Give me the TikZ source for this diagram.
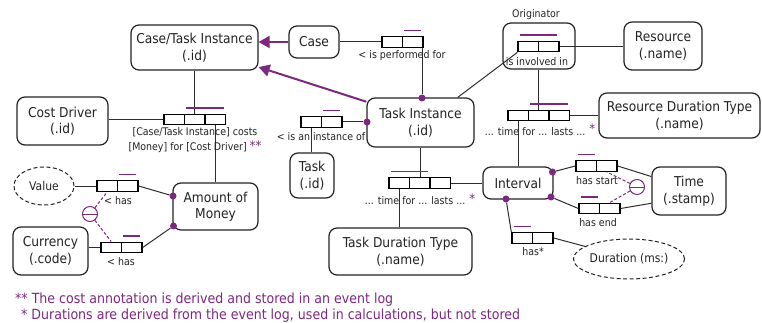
\documentclass[tikz,border=0pt]{standalone}
\usepackage{fontspec}
\setmainfont{DejaVu Sans}[FakeStretch=0.9]
\usetikzlibrary{arrows.meta,calc,shapes.geometric}

\definecolor{ormpurple}{RGB}{125,40,128}
\definecolor{ormink}{RGB}{34,34,34}
\definecolor{ormwire}{RGB}{45,45,45}

\tikzset{
  entity/.style={draw=ormink, line width=1.2pt, rounded corners=8pt, align=center,
    font=\fontsize{13.6}{16.5}\selectfont, text=ormink, inner sep=0pt},
  valuetype/.style={ellipse, draw=ormink, line width=1pt, dash pattern=on 4pt off 2.5pt,
    align=center, font=\fontsize{12}{15}\selectfont, text=ormink, inner sep=0pt},
  cell/.style={draw=black, line width=1.4pt, fill=white, minimum width=20.5pt,
    minimum height=10.5pt, inner sep=0pt},
  ubar/.style={draw=ormpurple, line width=1.4pt},
  wire/.style={draw=ormwire, line width=1pt},
  rolelabel/.style={font=\fontsize{10.5}{15}\selectfont, text=ormink, inner sep=0pt, align=center},
  footnote/.style={font=\fontsize{14}{17}\selectfont, text=ormpurple, inner sep=0pt},
  dot/.style={circle, fill=ormpurple, inner sep=0pt, minimum size=7pt},
  subtype/.style={draw=ormpurple, line width=2pt, -{Triangle[length=11pt,width=12pt]}},
  xconstraint/.style={circle, draw=ormpurple, line width=1pt, minimum size=15pt, inner sep=0pt,
    path picture={\draw[ormpurple, line width=1pt]
      (path picture bounding box.west) -- (path picture bounding box.east);}},
  xlink/.style={draw=ormpurple, line width=1pt, dash pattern=on 3pt off 2pt},
}

% uniqueness bar spanning the cells #1 .. #2 of a role box
\newcommand\uniqbar[2]{\draw[ubar] ($(#1.north west)+(2.5,-5.5)$) -- ($(#2.north east)+(-2.5,-5.5)$);}

\begin{document}
\begin{tikzpicture}[x=1pt,y=-1pt]
\useasboundingbox (0,0) rectangle (762,323);

% ---- object types ----
\node[entity, minimum width=127pt, minimum height=45pt] (cti) at (194.5,47.5) {Case/Task Instance\\(.id)};
\node[entity, minimum width=50pt, minimum height=32pt] (case) at (314,42) {Case};
\node[entity, minimum width=107pt, minimum height=49pt] (ti) at (420.5,122.5) {Task Instance\\(.id)};
\node[entity, minimum width=44pt, minimum height=45pt] (task) at (312,175.5) {Task\\(.id)};
\node[entity, minimum width=143pt, minimum height=47pt] (tdt) at (400.5,251.5) {Task Duration Type\\(.name)};
\node[entity, minimum width=70pt, minimum height=32pt] (iv) at (518,183) {Interval};
\node[entity, minimum width=74pt, minimum height=48pt] (time) at (689,191) {Time\\(.stamp)};
\node[valuetype, minimum width=110pt, minimum height=40pt] (dur) at (629,259) {Duration (ms:)};
\node[entity, minimum width=72pt, minimum height=46pt] (orig) at (539,46) {};
\node[rolelabel] (origname) at (536,15) {Originator};
\node[entity, minimum width=78pt, minimum height=48pt] (res) at (663,46) {Resource\\(.name)};
\node[entity, minimum width=161pt, minimum height=45pt] (rdt) at (679.5,115.5) {Resource Duration Type\\(.name)};
\node[entity, minimum width=91pt, minimum height=48pt] (cd) at (62.5,121) {Cost Driver\\(.id)};
\node[entity, minimum width=85pt, minimum height=47pt] (aom) at (215.5,206.5) {Amount of\\Money};
\node[valuetype, minimum width=60pt, minimum height=38pt] (val) at (44,186) {Value};
\node[entity, minimum width=75pt, minimum height=48pt] (cur) at (50.5,251) {Currency\\(.code)};

% ---- role boxes (cells) ----
\node[cell] (perf1) at (392.25,42) {};   \node[cell] (perf2) at (412.75,42) {};
\node[cell] (inst1) at (311.25,122) {};  \node[cell] (inst2) at (331.75,122) {};
\node[cell] (cost1) at (174.25,119.5) {}; \node[cell] (cost2) at (194.75,119.5) {}; \node[cell] (cost3) at (215.25,119.5) {};
\node[cell] (v1) at (107.25,186) {};     \node[cell] (v2) at (127.75,186) {};
\node[cell] (c1) at (111.25,247.5) {};   \node[cell] (c2) at (131.75,247.5) {};
\node[cell] (tdur1) at (399.25,183) {};  \node[cell] (tdur2) at (419.75,183) {}; \node[cell] (tdur3) at (440.25,183) {};
\node[cell] (rdur1) at (518.25,115.5) {}; \node[cell] (rdur2) at (538.75,115.5) {}; \node[cell] (rdur3) at (559.25,115.5) {};
\node[cell] (inv1) at (528.25,46.5) {};  \node[cell] (inv2) at (548.75,46.5) {};
\node[cell] (hs1) at (586.25,166) {};    \node[cell] (hs2) at (606.75,166) {};
\node[cell] (he1) at (589.25,208.5) {};  \node[cell] (he2) at (609.75,208.5) {};
\node[cell] (hd1) at (522.25,238) {};    \node[cell] (hd2) at (542.75,238) {};

% ---- mandatory role dots ----
\node[dot] (tiN) at (422,98) {};
\node[dot] (tiW) at (367,122) {};
\node[dot] (aomA) at (173,196) {};
\node[dot] (aomB) at (173.5,226) {};
\node[dot] (ivA) at (552.5,172) {};
\node[dot] (ivB) at (551,197) {};
\node[dot] (ivC) at (506,199) {};

% ---- connectors ----
\draw[wire] (case.east) -- (perf1.west);
\draw[wire] (perf2.south -| tiN) -- (tiN);
\draw[wire] (inst2.east) -- (tiW);
\draw[wire] (inst1.south) -- (inst1.south |- task.north);
\draw[wire] (ti.south) -- (ti.south |- tdur2.north);
\draw[wire] (tdur1.south) -- (tdur1.south |- tdt.north);
\draw[wire] (tdur3.east) -- (iv.west);
\draw[wire] (rdur1.south) -- (rdur1.south |- iv.north);
\draw[wire] (rdur3.east) -- (rdt.west);
\draw[wire] (orig.south -| rdur2.north) -- (rdur2.north);
\draw[wire] (inv2.east) -- (inv2.east -| res.west);
\draw[wire] (ti.34.6) -- (inv1.south west);
\draw[wire] (cd.east |- cost1.west) -- (cost1.west);
\draw[wire] (cost2.north |- cti.south) -- (cost2.north);
\draw[wire] (cost3.south) -- (cost3.south |- aom.north);
\draw[wire] (val.east) -- (v1.west);
\draw[wire] (v2.east) -- (aomA);
\draw[wire] (cur.east |- c1.west) -- (c1.west);
\draw[wire] (c2.east) -- (aomB);
\draw[wire] (ivA) -- (hs1.west);
\draw[wire] (hs2.east) -- (time.159.3);
\draw[wire] (ivB) -- (he1.west);
\draw[wire] (he2.east) -- (time.198);
\draw[wire] (ivC) -- (hd1.north west);
\draw[wire] (hd2.east) -- (dur.164.7);

% subtype arrows
\draw[subtype] (case.west) -- (case.west -| cti.east);
\draw[subtype] (ti.159) -- (cti.-17.6);

% uniqueness constraints
\uniqbar{perf2}{perf2}
\uniqbar{inst2}{inst2}
\uniqbar{cost2}{cost3}
\uniqbar{v2}{v2}
\uniqbar{c2}{c2}
\uniqbar{tdur1}{tdur2}
\uniqbar{rdur2}{rdur3}
\uniqbar{inv1}{inv2}
\uniqbar{hs1}{hs1}
\uniqbar{he1}{he1}
\uniqbar{hd1}{hd1}

% external uniqueness constraints
\node[xconstraint] (xu1) at (90,214) {};
\draw[xlink] (xu1) -- (v1.south);
\draw[xlink] (xu1) -- (c1.north);
\node[xconstraint] (xu2) at (637,187) {};
\draw[xlink] (xu2) -- (hs2.south);
\draw[xlink] (xu2) -- (he2.north);

% ---- reading labels ----
\node[rolelabel] (perfL) at (402,56) {< is performed for};
\node[rolelabel] (instL) at (321,137) {< is an instance of};
\node[rolelabel] (costL) at (195,140.5) {[Case/Task Instance] costs\\{}[Money] for [Cost Driver] \textcolor{ormpurple}{\fontsize{13}{13}\selectfont **}};
\node[rolelabel] (vL) at (118,201) {< has};
\node[rolelabel] (cL) at (121,262) {< has};
\node[rolelabel] (tdurL) at (420,199) {... time for ... lasts ... \raisebox{1.5pt}{\textcolor{ormpurple}{\fontsize{13}{13}\selectfont *}}};
\node[rolelabel] (rdurL) at (540,130) {... time for ... lasts ... \raisebox{1.5pt}{\textcolor{ormpurple}{\fontsize{13}{13}\selectfont *}}};
\node[rolelabel] (invL) at (537,62) {is involved in};
\node[rolelabel] (hsL) at (597,181) {has start};
\node[rolelabel] (heL) at (598,223) {has end};
\node[rolelabel] (hdL) at (533,252) {has*};

% ---- notes ----
\node[footnote, anchor=base west] (fn1) at (15,303) {** The cost annotation is derived and stored in an event log};
\node[footnote, anchor=base west] (fn2) at (21,319) {* Durations are derived from the event log, used in calculations, but not stored};
\end{tikzpicture}
\end{document}
